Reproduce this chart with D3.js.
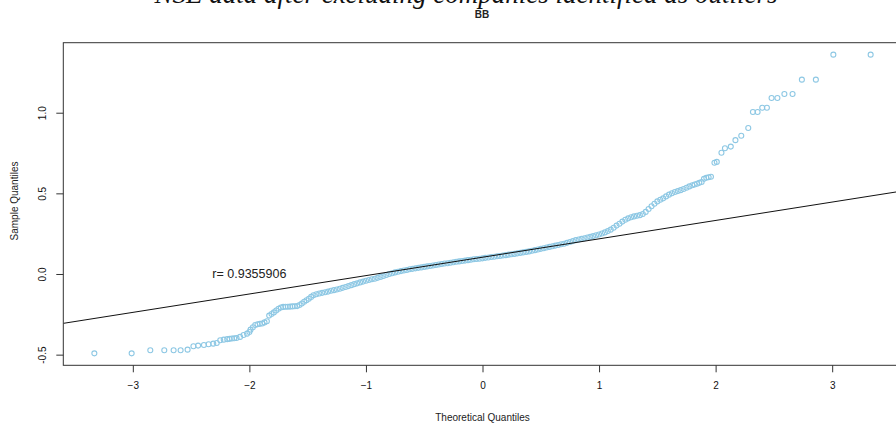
<!DOCTYPE html>
<html>
<head>
<meta charset="utf-8">
<script src="https://cdn.jsdelivr.net/npm/d3@7"></script>
<style>
  body { margin: 0; background: #fff; }
  svg { display: block; font-family: "Liberation Sans", Arial, sans-serif; }
</style>
</head>
<body>
<svg width="896" height="425"></svg>
<script>
  // theoretical quantiles, sample quantiles off the y axis
  const theoQ = [
    -3.33, -3.01, -2.85, -2.73, -2.65, -2.59, -2.53, -2.48, -2.44, -2.39, -2.35, -2.31,
    -2.28, -2.25, -2.22, -2.19, -2.17, -2.15, -2.13, -2.11, -2.08, -2.05, -2.02, -2.00,
    -1.99, -1.97, -1.95, -1.93, -1.91, -1.89, -1.87, -1.85, -1.83, -1.81, -1.79, -1.77,
    -1.75, -1.73, -1.71, -1.69, -1.67, -1.65, -1.63, -1.61, -1.59, -1.57, -1.55, -1.53,
    -1.51, -1.49, -1.47, -1.45, -1.425, -1.40, -1.375, -1.35, -1.325, -1.30, -1.275, -1.25,
    -1.225, -1.20, -1.175, -1.15, -1.125, -1.10, -1.075, -1.05, -1.025, -1.00, -0.975, -0.95,
    -0.925, -0.90, -0.875, -0.85, -0.825, -0.80, -0.775, -0.75, -0.725, -0.70, -0.675, -0.65,
    -0.625, -0.60, -0.575, -0.55, -0.525, -0.50, -0.475, -0.45, -0.425, -0.40, -0.375, -0.35,
    -0.325, -0.30, -0.275, -0.25, -0.225, -0.20, -0.175, -0.15, -0.125, -0.10, -0.075, -0.05,
    -0.025, 0.00, 0.025, 0.05, 0.075, 0.10, 0.125, 0.15, 0.175, 0.20, 0.225, 0.25,
    0.275, 0.30, 0.325, 0.35, 0.375, 0.40, 0.425, 0.45, 0.475, 0.50, 0.525, 0.55,
    0.575, 0.60, 0.625, 0.65, 0.675, 0.70, 0.725, 0.75, 0.775, 0.80, 0.825, 0.85,
    0.875, 0.90, 0.925, 0.95, 0.975, 1.00, 1.025, 1.05, 1.075, 1.10, 1.125, 1.15,
    1.175, 1.20, 1.225, 1.25, 1.275, 1.30, 1.325, 1.35, 1.375, 1.40, 1.425, 1.45,
    1.475, 1.50, 1.525, 1.55, 1.575, 1.60, 1.625, 1.65, 1.675, 1.70, 1.725, 1.75,
    1.775, 1.80, 1.82, 1.84, 1.86, 1.88, 1.90, 1.92, 1.94, 1.96,
    1.99, 2.01, 2.05, 2.08, 2.13, 2.17, 2.22, 2.28, 2.32, 2.36, 2.40, 2.44,
    2.48, 2.53, 2.59, 2.66, 2.74, 2.86, 3.01, 3.33
  ];
  const sampleQ = [
    -0.492, -0.492, -0.473, -0.473, -0.473, -0.473, -0.469, -0.448, -0.444, -0.440, -0.436, -0.432,
    -0.428, -0.411, -0.407, -0.404, -0.402, -0.400, -0.398, -0.397, -0.390, -0.378, -0.370, -0.360,
    -0.345, -0.330, -0.316, -0.312, -0.309, -0.307, -0.300, -0.293, -0.258, -0.248, -0.238, -0.226,
    -0.215, -0.208, -0.204, -0.203, -0.203, -0.202, -0.201, -0.200, -0.199, -0.192, -0.183, -0.172,
    -0.163, -0.153, -0.142, -0.132, -0.126, -0.121, -0.117, -0.113, -0.109, -0.104, -0.100, -0.096,
    -0.091, -0.086, -0.081, -0.075, -0.069, -0.063, -0.058, -0.052, -0.047, -0.042, -0.037, -0.033,
    -0.029, -0.024, -0.018, -0.012, -0.006, 0.000, 0.005, 0.010, 0.014, 0.018, 0.022, 0.025,
    0.029, 0.032, 0.035, 0.038, 0.041, 0.044, 0.047, 0.050, 0.053, 0.056, 0.059, 0.062,
    0.065, 0.067, 0.070, 0.073, 0.076, 0.078, 0.081, 0.083, 0.086, 0.088, 0.091, 0.093,
    0.095, 0.097, 0.100, 0.102, 0.105, 0.107, 0.110, 0.112, 0.115, 0.117, 0.120, 0.122,
    0.125, 0.128, 0.131, 0.134, 0.137, 0.140, 0.144, 0.148, 0.152, 0.156, 0.160, 0.164,
    0.168, 0.172, 0.176, 0.180, 0.184, 0.188, 0.193, 0.198, 0.204, 0.210, 0.214, 0.218,
    0.222, 0.226, 0.230, 0.235, 0.240, 0.245, 0.251, 0.258, 0.266, 0.275, 0.287, 0.300,
    0.312, 0.325, 0.336, 0.345, 0.352, 0.357, 0.361, 0.365, 0.372, 0.385, 0.403, 0.420,
    0.436, 0.450, 0.460, 0.469, 0.481, 0.492, 0.501, 0.508, 0.514, 0.520, 0.527, 0.535,
    0.543, 0.550, 0.555, 0.560, 0.565, 0.570, 0.590, 0.597, 0.600, 0.603,
    0.690, 0.695, 0.752, 0.780, 0.790, 0.830, 0.857, 0.905, 1.004, 1.004, 1.031, 1.031,
    1.091, 1.091, 1.116, 1.116, 1.205, 1.205, 1.360, 1.360
  ];

  const xTicks = [-3, -2, -1, 0, 1, 2, 3];
  const yTicks = [-0.5, 0, 0.5, 1.0];
  const yTickLabels = ["-0.5", "0.0", "0.5", "1.0"];

  // qqline fit and the correlation note
  const lineIntercept = 0.104, lineSlope = 0.114;
  const rLabel = "r= 0.9355906";

  const svg = d3.select("svg"),
        width = +svg.attr("width"),
        height = +svg.attr("height");

  const plot = {left: 63.3, right: 901.7, top: 42.7, bottom: 365.3};

  const pad = (ext) => { const r = ext[1] - ext[0]; return [ext[0] - 0.04 * r, ext[1] + 0.04 * r]; };

  const x = d3.scaleLinear().domain(pad(d3.extent(theoQ))).range([plot.left, plot.right]);
  const y = d3.scaleLinear().domain(pad(d3.extent(sampleQ))).range([plot.bottom, plot.top]);

  svg.append("clipPath").attr("id", "clip")
    .append("rect")
    .attr("x", plot.left).attr("y", plot.top)
    .attr("width", plot.right - plot.left).attr("height", plot.bottom - plot.top);

  // titles (the big one is cut off by the top edge, as in the original)
  svg.append("text")
    .attr("x", 466).attr("y", 3)
    .attr("text-anchor", "middle")
    .style("font-family", "'Liberation Serif', 'Times New Roman', serif")
    .style("font-style", "italic")
    .style("font-size", "27px")
    .attr("fill", "#111")
    .text("NSE data after excluding companies identified as outliers");

  svg.append("text")
    .attr("x", 482).attr("y", 18)
    .attr("text-anchor", "middle")
    .style("font-size", "10px")
    .style("font-weight", "bold")
    .attr("fill", "#222")
    .text("BB");

  // points
  const pts = theoQ.map((q, i) => ({q, s: sampleQ[i]}));
  svg.append("g").attr("clip-path", "url(#clip)")
    .selectAll("circle")
    .data(pts)
    .enter().append("circle")
    .attr("cx", d => x(d.q))
    .attr("cy", d => y(d.s))
    .attr("r", 2.5)
    .attr("fill", "none")
    .attr("stroke", "#8ec8e4")
    .attr("stroke-width", 1.1);

  // reference line across the whole plot
  const xd = x.domain();
  svg.append("line")
    .attr("clip-path", "url(#clip)")
    .attr("x1", x(xd[0])).attr("y1", y(lineIntercept + lineSlope * xd[0]))
    .attr("x2", x(xd[1])).attr("y2", y(lineIntercept + lineSlope * xd[1]))
    .attr("stroke", "#111")
    .attr("stroke-width", 1);

  svg.append("text")
    .attr("x", x(-2)).attr("y", y(0))
    .attr("dy", "0.35em")
    .attr("text-anchor", "middle")
    .style("font-size", "12.5px")
    .attr("fill", "#222")
    .text(rLabel);

  // box
  svg.append("rect")
    .attr("x", plot.left).attr("y", plot.top)
    .attr("width", plot.right - plot.left).attr("height", plot.bottom - plot.top)
    .attr("fill", "none")
    .attr("stroke", "#333")
    .attr("stroke-width", 1);

  // axes
  const xAxis = svg.append("g")
    .attr("transform", `translate(0,${plot.bottom})`)
    .call(d3.axisBottom(x).tickValues(xTicks).tickSize(7).tickPadding(10).tickFormat(d3.format("d")));
  xAxis.select(".domain").remove();
  xAxis.selectAll("line").attr("stroke", "#333");
  xAxis.selectAll("text").style("font-size", "10px").attr("fill", "#111").style("font-family", "'Liberation Sans', Arial, sans-serif");

  const yAxis = svg.append("g")
    .attr("transform", `translate(${plot.left},0)`)
    .call(d3.axisLeft(y).tickValues(yTicks).tickSize(7).tickFormat((d, i) => yTickLabels[i]));
  yAxis.select(".domain").remove();
  yAxis.selectAll("line").attr("stroke", "#333");
  yAxis.selectAll("text")
    .attr("x", null).attr("dy", null)
    .attr("transform", d => `translate(-21,0) rotate(-90)`)
    .attr("text-anchor", "middle")
    .attr("dy", "0.35em")
    .style("font-size", "10px").attr("fill", "#111")
    .style("font-family", "'Liberation Sans', Arial, sans-serif");

  svg.append("text")
    .attr("x", 482.5).attr("y", 417)
    .attr("dy", "0.35em")
    .attr("text-anchor", "middle")
    .style("font-size", "10px")
    .attr("fill", "#222")
    .text("Theoretical Quantiles");

  svg.append("text")
    .attr("transform", "translate(14,201) rotate(-90)")
    .attr("dy", "0.35em")
    .attr("text-anchor", "middle")
    .style("font-size", "10px")
    .attr("fill", "#222")
    .text("Sample Quantiles");
</script>
</body>
</html>
